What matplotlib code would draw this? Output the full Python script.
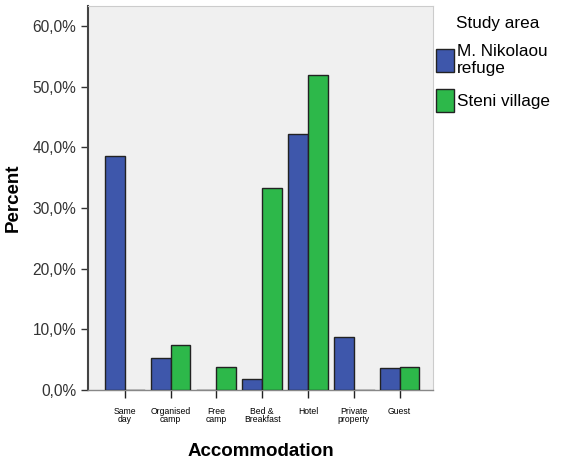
import numpy as np
import matplotlib
matplotlib.use('Agg')
import matplotlib.pyplot as plt
from matplotlib.ticker import FuncFormatter
from matplotlib.patches import Patch

plt.rcParams['font.family'] = ['Liberation Sans', 'DejaVu Sans']

categories = ['Same\nday', 'Organised\ncamp', 'Free\ncamp', 'Bed &\nBreakfast',
              'Hotel', 'Private\nproperty', 'Guest']
nikolaou = [38.6, 5.3, 0.0, 1.8, 42.2, 8.7, 3.6]
steni = [0.0, 7.4, 3.7, 33.3, 51.9, 0.0, 3.7]
series_names = ['M. Nikolaou\nrefuge', 'Steni village']
y_ticks = [0, 10, 20, 30, 40, 50, 60]

blue = '#3e57ab'
green = '#2db84a'

fig = plt.figure(figsize=(5.61, 4.62), dpi=100)
ax = fig.add_axes([0.157, 0.156, 0.615, 0.831])
ax.set_facecolor('#f0f0f0')

x = np.arange(len(categories))
w = 0.43
for vals, col, off in [(nikolaou, blue, -w / 2), (steni, green, w / 2)]:
    for xi, v in zip(x, vals):
        if v > 0:
            ax.bar(xi + off, v, width=w, color=col, edgecolor='#222222', linewidth=1.0, zorder=3)
        else:
            ax.plot([xi + off - w / 2, xi + off + w / 2], [0, 0], color='#222222', lw=1.0, zorder=3)

ax.set_xlim(-0.8, len(categories) - 0.27)
ax.set_ylim(0, 63.3)
ax.set_yticks(y_ticks)
ax.yaxis.set_major_formatter(FuncFormatter(lambda v, p: ('%.1f%%' % v).replace('.', ',')))
ax.set_xticks(x)
ax.set_xticklabels(categories, fontsize=6.2, linespacing=0.9)
ax.tick_params(axis='y', labelsize=11.2, colors='#333333', length=5, width=1, labelcolor='#333333')
ax.tick_params(axis='x', length=6, width=1, color='#222222', pad=6)

for s in ['top', 'right']:
    ax.spines[s].set_color('#cccccc')
ax.spines['left'].set_color('#444444')
ax.spines['left'].set_linewidth(1.5)
ax.spines['bottom'].set_color('#888888')
ax.spines['bottom'].set_linewidth(1.0)

ax.set_ylabel('Percent', fontsize=13.5, fontweight='bold', labelpad=8)
ax.set_xlabel('Accommodation', fontsize=13.5, fontweight='bold', labelpad=14)

handles = [Patch(facecolor=blue, edgecolor='#222222'), Patch(facecolor=green, edgecolor='#222222')]
leg = fig.legend(handles, series_names, title='Study area', loc='upper left',
                 bbox_to_anchor=(0.778, 0.965), frameon=False, fontsize=12.3,
                 title_fontsize=12.3, handlelength=1.0, handleheight=1.65,
                 handletextpad=0.2, labelspacing=0.75, borderaxespad=0,
                 borderpad=0.0)
leg._legend_box.align = 'left'
leg.get_title().set_position((20, 0))

fig.savefig('out.png', dpi=100)
